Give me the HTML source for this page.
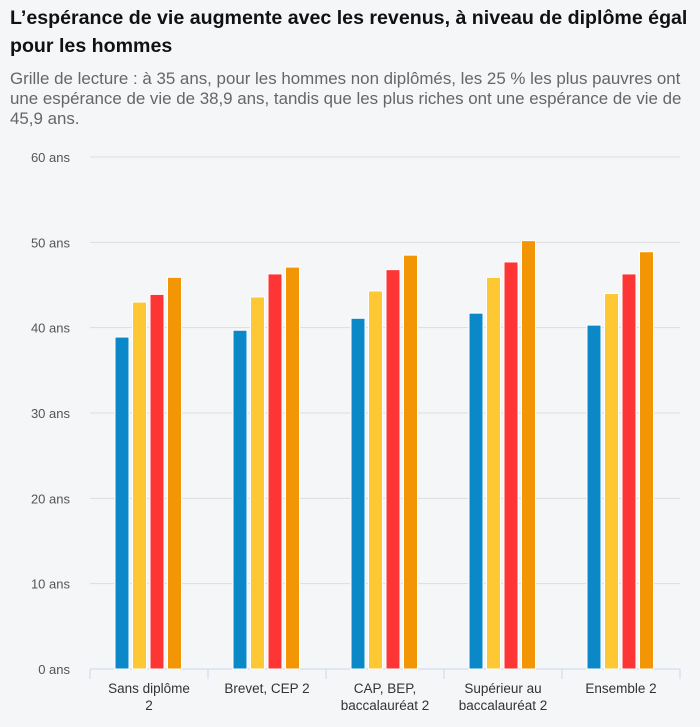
<!DOCTYPE html>
<html><head><meta charset="utf-8"><style>
body{margin:0;background:#f5f6f8;width:700px;height:727px;overflow:hidden;font-family:"Liberation Sans",sans-serif}
h1{position:absolute;left:10px;top:4px;margin:0;font-size:19.6px;line-height:28px;font-weight:bold;color:#111;width:690px}
p{position:absolute;left:10px;top:69px;margin:0;font-size:16.9px;line-height:20px;color:#666;width:690px}
</style></head><body>
<h1>L’espérance de vie augmente avec les revenus, à niveau de diplôme égal pour les hommes</h1>
<p>Grille de lecture : à 35 ans, pour les hommes non diplômés, les 25 % les plus pauvres ont une espérance de vie de 38,9 ans, tandis que les plus riches ont une espérance de vie de 45,9 ans.</p>
<svg id="c" width="700" height="727" style="position:absolute;left:0;top:0" font-family="Liberation Sans, sans-serif"></svg>
<script>
const categories=[["Sans diplôme","2"],["Brevet, CEP 2"],["CAP, BEP,","baccalauréat 2"],["Supérieur au","baccalauréat 2"],["Ensemble 2"]];
const seriesQ1=[38.9,39.7,41.1,41.7,40.3];
const seriesQ2=[43.0,43.6,44.3,45.9,44.0];
const seriesQ3=[43.9,46.3,46.8,47.7,46.3];
const seriesQ4=[45.9,47.1,48.5,50.2,48.9];
const yTicks=[0,10,20,30,40,50,60];
const yTickLabels=["0 ans","10 ans","20 ans","30 ans","40 ans","50 ans","60 ans"];
const colors=["#0a88c8","#fec835","#fe3535","#f29605"];
const svg=document.getElementById('c');const NS="http://www.w3.org/2000/svg";
const x0=90,x1=680,y0=669,y60=157;
const y=v=>y0-(v/60)*(y0-y60);
const bw=(x1-x0)/categories.length;
function el(t,a,txt){const e=document.createElementNS(NS,t);for(const k in a)e.setAttribute(k,a[k]);if(txt!=null)e.textContent=txt;svg.appendChild(e);return e;}
yTicks.forEach((t,i)=>{
 const g=el('line',{x1:x0,x2:x1,y1:y(t),y2:y(t),stroke:t===0?'#ccd6eb':'#dcdde0','stroke-width':1});
 
 
 const l=el('text',{x:70,y:y(t)+5,'text-anchor':'end','font-size':13,fill:'#555'},yTickLabels[i]);
 
 
});
for(let i=0;i<=categories.length;i++){
 const tk=el('line',{x1:x0+i*bw,x2:x0+i*bw,y1:y0,y2:y0+10,stroke:'#ccd6eb'});
 
 
}
const series=[seriesQ1,seriesQ2,seriesQ3,seriesQ4];
categories.forEach((c,i)=>{
 const cx=x0+bw*(i+0.5);
 series.forEach((s,j)=>{
  const bx=cx-34+j*17.5;
  const r=el('rect',{x:bx,y:y(s[i]),width:14,height:y0-y(s[i]),fill:colors[j],stroke:'#fff','stroke-width':1});
  
  
 });
 c.forEach((ln,k)=>{
  const t=el('text',{x:cx,y:y0+24+k*17,'text-anchor':'middle','font-size':13.5,fill:'#333'},ln);
  
  
 });
});
</script>
</body></html>
